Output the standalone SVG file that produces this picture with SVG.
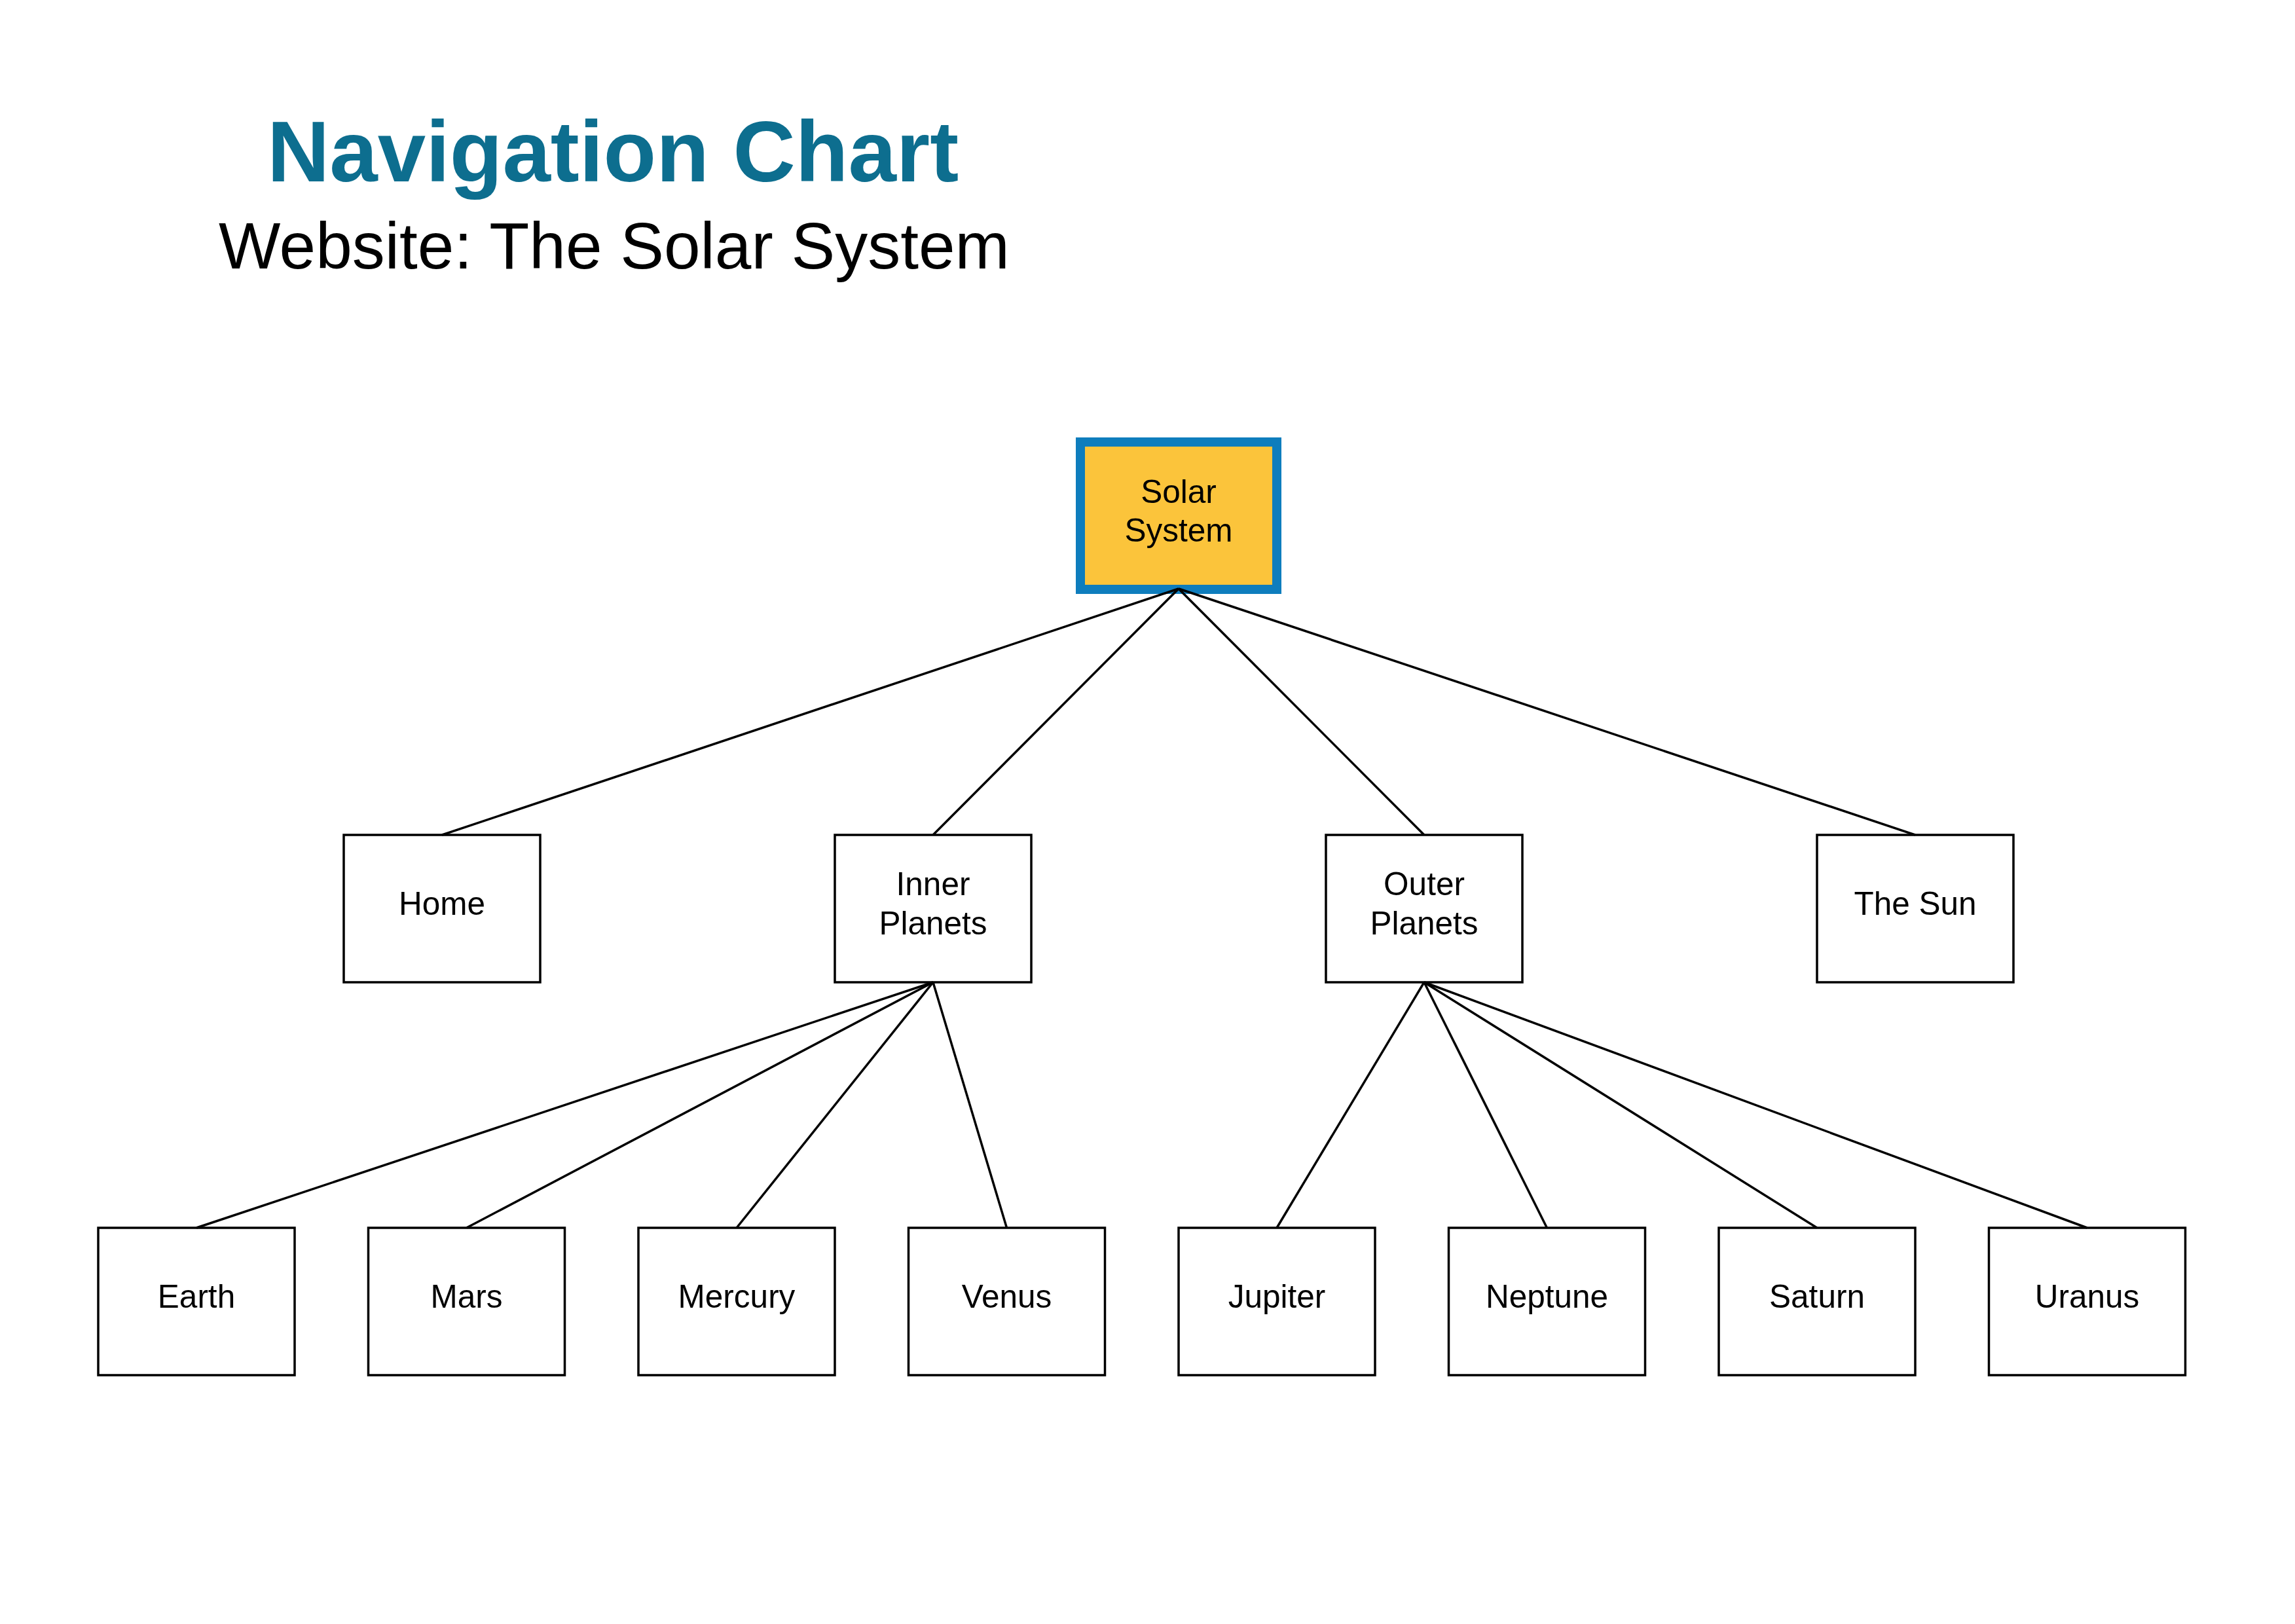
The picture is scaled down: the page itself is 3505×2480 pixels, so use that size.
<svg xmlns="http://www.w3.org/2000/svg" width="3505" height="2480" viewBox="0 0 3505 2480">
<style>
.box{fill:#ffffff;stroke:#000000;stroke-width:3.5}
.root{fill:#FBC43B;stroke:#0E7DBD;stroke-width:14}
.lbl{font-family:"Liberation Sans",Arial,sans-serif;font-size:49.5px;fill:#000000;text-anchor:middle}
.conn line{stroke:#000000;stroke-width:3.5}
</style>
<rect width="3505" height="2480" fill="#ffffff"/>
<text x="408" y="277" font-family="Liberation Sans, Arial, sans-serif" font-weight="bold" font-size="132" fill="#0D6E8F">Navigation Chart</text>
<text x="334" y="410" font-family="Liberation Sans, Arial, sans-serif" font-size="100" fill="#000000">Website: The Solar System</text>
<g id="n-solar"><rect class="root" x="1650" y="675" width="300" height="225"/><text class="lbl" x="1800" y="768">Solar</text><text class="lbl" x="1800" y="827">System</text></g>
<g id="n-home"><rect class="box" x="525" y="1275" width="300" height="225"/><text class="lbl" x="675" y="1397">Home</text></g>
<g id="n-inner"><rect class="box" x="1275" y="1275" width="300" height="225"/><text class="lbl" x="1425" y="1367">Inner</text><text class="lbl" x="1425" y="1427">Planets</text></g>
<g id="n-outer"><rect class="box" x="2025" y="1275" width="300" height="225"/><text class="lbl" x="2175" y="1367">Outer</text><text class="lbl" x="2175" y="1427">Planets</text></g>
<g id="n-sun"><rect class="box" x="2775" y="1275" width="300" height="225"/><text class="lbl" x="2925" y="1397">The Sun</text></g>
<g id="n-earth"><rect class="box" x="150" y="1875" width="300" height="225"/><text class="lbl" x="300" y="1997">Earth</text></g>
<g id="n-mars"><rect class="box" x="562.5" y="1875" width="300" height="225"/><text class="lbl" x="712.5" y="1997">Mars</text></g>
<g id="n-mercury"><rect class="box" x="975" y="1875" width="300" height="225"/><text class="lbl" x="1125" y="1997">Mercury</text></g>
<g id="n-venus"><rect class="box" x="1387.5" y="1875" width="300" height="225"/><text class="lbl" x="1537.5" y="1997">Venus</text></g>
<g id="n-jupiter"><rect class="box" x="1800" y="1875" width="300" height="225"/><text class="lbl" x="1950" y="1997">Jupiter</text></g>
<g id="n-neptune"><rect class="box" x="2212.5" y="1875" width="300" height="225"/><text class="lbl" x="2362.5" y="1997">Neptune</text></g>
<g id="n-saturn"><rect class="box" x="2625" y="1875" width="300" height="225"/><text class="lbl" x="2775" y="1997">Saturn</text></g>
<g id="n-uranus"><rect class="box" x="3037.5" y="1875" width="300" height="225"/><text class="lbl" x="3187.5" y="1997">Uranus</text></g>
<g id="connectors" class="conn">
<line x1="1800" y1="899" x2="675" y2="1275"/>
<line x1="1800" y1="899" x2="1425" y2="1275"/>
<line x1="1800" y1="899" x2="2175" y2="1275"/>
<line x1="1800" y1="899" x2="2925" y2="1275"/>
<line x1="1425" y1="1500" x2="300" y2="1875"/>
<line x1="1425" y1="1500" x2="712.5" y2="1875"/>
<line x1="1425" y1="1500" x2="1125" y2="1875"/>
<line x1="1425" y1="1500" x2="1537.5" y2="1875"/>
<line x1="2175" y1="1500" x2="1950" y2="1875"/>
<line x1="2175" y1="1500" x2="2362.5" y2="1875"/>
<line x1="2175" y1="1500" x2="2775" y2="1875"/>
<line x1="2175" y1="1500" x2="3187.5" y2="1875"/>
</g>
</svg>
